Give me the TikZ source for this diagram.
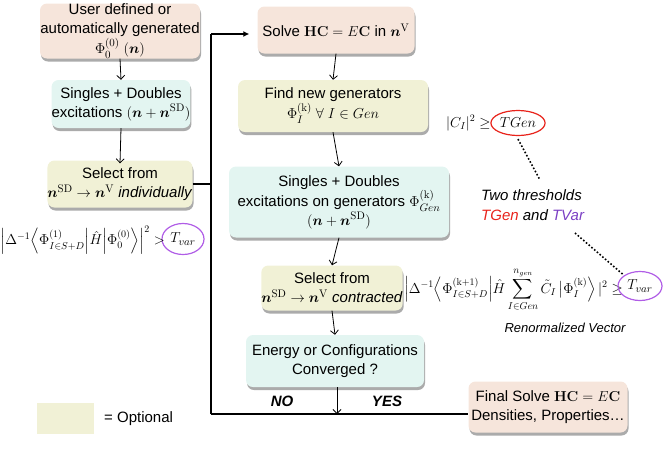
\documentclass[tikz,border=0pt]{standalone}
\usepackage{amsmath,amssymb,bm}
\usepackage[no-math]{fontspec}
\setmainfont{Liberation Sans}
\usetikzlibrary{shapes.geometric,shadows,arrows.meta}
\definecolor{peach}{HTML}{F6E5DB}
\definecolor{cyanbox}{HTML}{E3F5F1}
\definecolor{yelbox}{HTML}{F1F1D6}
\definecolor{tred}{HTML}{E8231B}
\definecolor{tpurp}{HTML}{B05DE6}
\definecolor{tpurptext}{HTML}{7B3FC4}
\newcommand{\bn}{\boldsymbol{n}}
\tikzset{
  box/.style={rounded corners=7pt, inner sep=0pt, align=center,
    font=\fontsize{15}{19}\selectfont,
    drop shadow={opacity=0.55, shadow xshift=1pt, shadow yshift=-3pt, fill=black!60}},
  pbox/.style={box, fill=peach},
  cbox/.style={box, fill=cyanbox},
  ybox/.style={box, fill=yelbox},
  flow/.style={-{Straight Barb[length=4pt,width=8pt]}, line width=0.8pt},
  trunk/.style={line width=1.4pt},
  dots/.style={dotted, line width=1.6pt},
  formula/.style={inner sep=0pt, font=\fontsize{14.5}{16}\selectfont},
  thr/.style={ellipse, line width=1.2pt, inner sep=1pt, font=\fontsize{15}{16}\selectfont},
}
\begin{document}
\begin{tikzpicture}[x=1pt,y=-1pt]
\useasboundingbox (0,0) rectangle (666,448);
% left column
\node[pbox, minimum width=160pt, minimum height=55pt] (user) at (120,31)
  {User defined or\\automatically generated\\$\Phi_0^{(0)}\;(\bn)$};
\node[cbox, minimum width=138pt, minimum height=48pt] (sd1) at (121,104)
  {Singles + Doubles\\excitations $(\bn+\bn^{\mathrm{SD}})$};
\node[ybox, minimum width=136pt, minimum height=47pt] (sel1) at (120,184)
  {Select from\\$\bn^{\mathrm{SD}}\to\bn^{\mathrm{V}}$ \textit{individually}};
\node[thr, draw=tpurp, minimum width=42pt, minimum height=31pt] (tv1) at (183,239) {$T_{var}$};
\node[formula, anchor=east] (f1) at (165,240)
  {$\Bigl|\Delta^{-1}\Bigl\langle\Phi^{(1)}_{I\in S+D}\Bigr|\hat H\Bigl|\Phi_0^{(0)}\Bigr\rangle\Bigr|^2 >$};
% legend
\node[fill=yelbox, minimum width=57pt, minimum height=31pt, inner sep=0pt] (leg) at (65.5,418.5) {};
\node[anchor=west, inner sep=0pt, font=\fontsize{15}{17}\selectfont] (legt) at (104,419) {= Optional};
% right column
\node[pbox, minimum width=157pt, minimum height=47pt] (solve) at (336,30)
  {Solve $\mathbf{HC}=E\mathbf{C}$ in $\bn^{\mathrm{V}}$};
\node[ybox, minimum width=190pt, minimum height=52pt] (find) at (333,106)
  {Find new generators\\$\Phi_I^{(\mathrm{k})}\;\forall\;I\in Gen$};
\node[cbox, minimum width=220pt, minimum height=71pt] (sd2) at (339,202)
  {Singles + Doubles\\excitations on generators $\Phi_{Gen}^{(\mathrm{k})}$\\$(\bn+\bn^{\mathrm{SD}})$};
\node[ybox, minimum width=139pt, minimum height=45pt] (sel2) at (332,288)
  {Select from\\$\bn^{\mathrm{SD}}\to\bn^{\mathrm{V}}$ \textit{contracted}};
\node[cbox, minimum width=178pt, minimum height=52pt] (conv) at (335,361)
  {Energy or Configurations\\Converged ?};
\node[pbox, minimum width=159pt, minimum height=51pt] (final) at (548,407)
  {Final Solve $\mathbf{HC}=E\mathbf{C}$\\Densities, Properties\ldots};
% right formulas
\node[formula, anchor=west] (cI) at (446,123) {$|C_I|^2\geq$};
\node[thr, draw=tred, minimum width=46pt, minimum height=25pt] (tgen) at (518,123) {$TGen$};
\node[align=left, anchor=west, inner sep=0pt, font=\fontsize{15}{20}\itshape] (two) at (481,205)
  {Two thresholds\\\textcolor{tred}{TGen} and \textcolor{tpurptext}{TVar}};
\node[formula, anchor=west, font=\fontsize{14}{16}\selectfont] (f2) at (404,290)
  {$\Bigl|\Delta^{-1}\Bigl\langle\Phi^{(\mathrm{k+1})}_{I\in S+D}\Bigr|\hat H\displaystyle\sum_{I\in Gen}^{n_{gen}}\tilde C_I\,\bigl|\Phi_I^{(\mathrm{k})}\Bigr\rangle\,|^2\geq$};
\node[thr, draw=tpurp, minimum width=44pt, minimum height=29pt] (tv2) at (640,286) {$T_{var}$};
\node[inner sep=0pt, font=\fontsize{13}{15}\itshape] (renorm) at (565,328) {Renormalized Vector};
\node[inner sep=0pt, font=\fontsize{15}{17}\bfseries\itshape] (no) at (282,401) {NO};
\node[inner sep=0pt, font=\fontsize{15}{17}\bfseries\itshape] (yes) at (387,401) {YES};
% flow arrows
\draw[flow] (user.south) -- (sd1.north);
\draw[flow] (sd1.south) -- ([yshift=-3pt]sel1.north);
\draw[flow] (solve.south) -- (find.north);
\draw[flow] (find.south) -- (sd2.north);
\draw[flow] (sd2.south) -- (sel2.north);
\draw[flow] (sel2.south) -- (conv.north);
% trunk loop
\coordinate (ttop) at (211,34);
\coordinate (tbot) at (211,414);
\coordinate (tend) at (337,414);
\draw[trunk] (sel1.east) -- (sel1.east -| ttop);
\draw[trunk] (tbot) -- (ttop);
\draw[trunk, -{Latex[length=6pt,width=6pt]}] (ttop) -- ([xshift=-8pt]ttop -| solve.west);
\draw[trunk] (tbot) -- (tbot -| final.west);
\draw[flow] (conv.south -| tend) -- (tend);
% dotted links
\coordinate (d1) at (540,180);
\coordinate (d2) at (575,233);
\draw[dots] ([yshift=-3pt]tgen.south) -- (d1);
\draw[dots] (d2) -- (tv2.north west);
\end{tikzpicture}
\end{document}
